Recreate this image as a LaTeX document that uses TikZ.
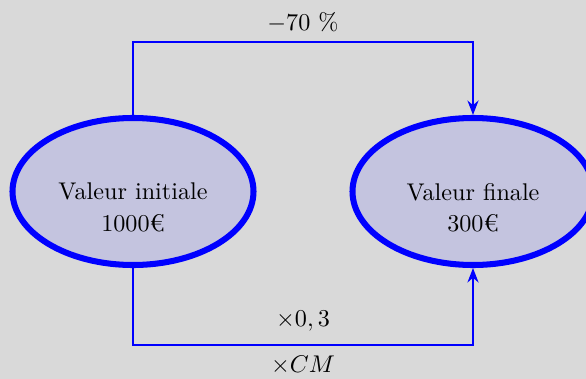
\documentclass[tikz,border=0pt]{standalone}
\usetikzlibrary{shapes.geometric,arrows.meta}
\definecolor{bggray}{RGB}{217,217,217}
\definecolor{ellfill}{RGB}{196,196,223}
\begin{document}
\begin{tikzpicture}[x=0.414pt,y=-0.414pt,
  ellbox/.style={ellipse,draw=blue,fill=ellfill,line width=2.5pt,inner sep=0pt,
    minimum width=241*0.414pt,minimum height=147*0.414pt},
  txt/.style={align=center,inner sep=0pt,font=\normalsize},
  conn/.style={draw=blue,thick,-{Stealth[length=6pt,width=4.6pt]}},
  lbl/.style={inner sep=0pt}]
\fill[bggray] (0,0) rectangle (586,379);
\useasboundingbox (0,0) rectangle (586,379);
\node[ellbox] (A) at (133,191.5) {};
\node[ellbox] (B) at (473,191.5) {};
\node[txt] (At) at (133,207.5) {Valeur initiale\\[1pt]1000€};
\node[txt] (Bt) at (473,207.5) {Valeur finale\\[1pt]300€};
\coordinate (top) at (303,42);
\coordinate (bot) at (303,345);
\draw[conn] (A.north) -- (A.north |- top) -- (B.north |- top) -- (B.north);
\draw[conn] (A.south) -- (A.south |- bot) -- (B.south |- bot) -- (B.south);
\node[lbl] (l1) at (303,22) {$-70$~\%};
\node[lbl] (l2) at (303,321) {$\times 0,3$};
\node[lbl] (l3) at (303,365) {$\times CM$};
\end{tikzpicture}
\end{document}
